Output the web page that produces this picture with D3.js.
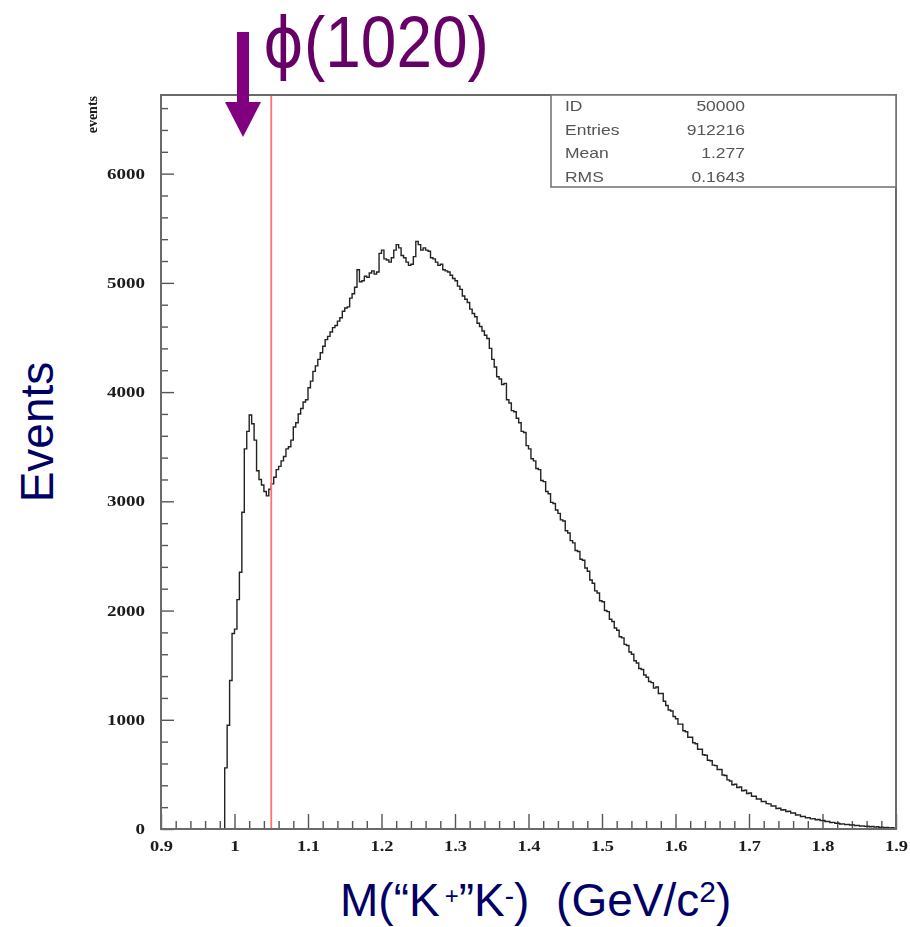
<!DOCTYPE html>
<html>
<head>
<meta charset="utf-8">
<style>
  body { margin: 0; background: #fff; }
  svg { display: block; }
</style>
</head>
<body>
<div id="chart"></div>
<script src="https://d3js.org/d3.v7.min.js"></script>
<script>
// histogram: 300 bins from 0.9 to 1.9 GeV/c2
const binLo = 0.9;
const binHi = 1.9;
const counts = [
  0, 0, 0, 0, 0, 0, 0, 0, 0, 0,
  0, 0, 0, 0, 0, 0, 0, 0, 0, 0,
  0, 0, 0, 0, 0, 0, 560, 950, 1360, 1790,
  1830, 2100, 2350, 2900, 3480, 3640, 3790, 3710, 3560, 3280,
  3200, 3150, 3090, 3050, 3110, 3160, 3220, 3290, 3320, 3370,
  3410, 3480, 3500, 3560, 3680, 3720, 3800, 3850, 3910, 3930,
  4040, 4100, 4190, 4240, 4300, 4360, 4420, 4480, 4510, 4550,
  4590, 4610, 4650, 4680, 4740, 4770, 4780, 4860, 4900, 4960,
  5120, 5010, 5020, 5060, 5050, 5090, 5110, 5080, 5100, 5270,
  5300, 5220, 5210, 5190, 5230, 5300, 5350, 5320, 5250, 5230,
  5190, 5160, 5170, 5240, 5380, 5350, 5300, 5320, 5300, 5290,
  5230, 5220, 5190, 5160, 5170, 5120, 5110, 5100, 5070, 5040,
  5020, 4970, 4940, 4880, 4850, 4820, 4760, 4720, 4690, 4630,
  4600, 4560, 4520, 4490, 4400, 4300, 4230, 4140, 4120, 4070,
  4080, 3930, 3900, 3830, 3820, 3760, 3720, 3640, 3630, 3510,
  3480, 3390, 3370, 3300, 3290, 3190, 3180, 3090, 3070, 2990,
  2980, 2920, 2890, 2830, 2820, 2730, 2710, 2640, 2620, 2550,
  2540, 2470, 2460, 2390, 2360, 2280, 2250, 2180, 2160, 2090,
  2080, 2000, 1990, 1920, 1900, 1840, 1820, 1760, 1750, 1690,
  1680, 1620, 1600, 1540, 1520, 1470, 1460, 1410, 1390, 1350,
  1340, 1290, 1300, 1240, 1240, 1170, 1130, 1090, 1080, 1030,
  1010, 960, 960, 900, 890, 840, 840, 790, 780, 730,
  730, 680, 675, 630, 625, 585, 580, 545, 545, 495,
  490, 450, 440, 405, 410, 380, 385, 350, 355, 325,
  330, 300, 300, 275, 275, 252, 252, 232, 230, 210,
  210, 188, 190, 174, 176, 160, 162, 146, 146, 128,
  129, 114, 116, 102, 104, 93, 95, 85, 87, 77,
  78, 68, 69, 60, 61, 53, 52, 46, 47, 40,
  42, 36, 38, 32, 33, 27, 29, 24, 26, 20,
  23, 17, 20, 14, 17, 12, 14, 9, 12, 8
];
const yMajorTicks = [0, 1000, 2000, 3000, 4000, 5000, 6000];
const xMajorTicks = [0.9, 1.0, 1.1, 1.2, 1.3, 1.4, 1.5, 1.6, 1.7, 1.8, 1.9];
const xTickLabels = ["0.9", "1", "1.1", "1.2", "1.3", "1.4", "1.5", "1.6", "1.7", "1.8", "1.9"];
const cutValue = 1.05;
const statLabels = ["ID", "Entries", "Mean", "RMS"];
const statValues = ["50000", "912216", "1.277", "0.1643"];

const W = 910, H = 927;
const plot = { left: 161, right: 896, top: 95, bottom: 829 };

const svg = d3.select("#chart").append("svg")
    .attr("width", W)
    .attr("height", H);

// the source is a blurry scan, soften the plot a bit
svg.append("defs").append("filter")
    .attr("id", "soft")
    .attr("x", "-5%").attr("y", "-5%")
    .attr("width", "110%").attr("height", "110%")
    .append("feGaussianBlur")
    .attr("stdDeviation", 0.7);

const x = d3.scaleLinear().domain([binLo, binHi]).range([plot.left, plot.right]);
const y = d3.scaleLinear().domain([0, 6720]).range([plot.bottom, plot.top]);

const g = svg.append("g").attr("filter", "url(#soft)");

// minor ticks
const yMinor = d3.range(0, 6720, 200).filter(v => v % 1000 !== 0);
const xMinor = d3.range(0, 51).map(i => binLo + i * 0.02).filter((v, i) => i % 5 !== 0);

g.append("g")
    .attr("transform", `translate(${plot.left},0)`)
    .call(d3.axisLeft(y).tickValues(yMinor).tickSize(-7).tickFormat(""))
    .call(a => a.select(".domain").remove());

g.append("g")
    .attr("transform", `translate(0,${plot.bottom})`)
    .call(d3.axisBottom(x).tickValues(xMinor).tickSize(-8).tickFormat(""))
    .call(a => a.select(".domain").remove());

// major ticks + labels
const yAxis = g.append("g")
    .attr("transform", `translate(${plot.left},0)`)
    .call(d3.axisLeft(y).tickValues(yMajorTicks).tickSize(-13).tickPadding(16).tickFormat(d3.format("d")));
yAxis.select(".domain").remove();

const xAxis = g.append("g")
    .attr("transform", `translate(0,${plot.bottom})`)
    .call(d3.axisBottom(x).tickValues(xMajorTicks).tickSize(-15).tickPadding(12)
        .tickFormat((d, i) => xTickLabels[i]));
xAxis.select(".domain").remove();

g.selectAll(".tick line").attr("stroke", "#555").attr("stroke-width", 1.4);

function labelWidth(s) {
  let w = 0;
  for (const ch of s) w += ch === "." ? 4 : 9.5;
  return w;
}

g.selectAll(".tick text")
    .attr("font-family", "'Liberation Serif', 'Times New Roman', serif")
    .attr("font-weight", "bold")
    .attr("font-size", 14)
    .attr("fill", "#1a1a1a")
    .attr("lengthAdjust", "spacingAndGlyphs")
    .attr("textLength", function() { return labelWidth(this.textContent); });

// y title of the PAW frame
g.append("text")
    .attr("transform", `translate(97,${plot.top + 1}) rotate(-90)`)
    .attr("text-anchor", "end")
    .attr("font-family", "'Liberation Serif', 'Times New Roman', serif")
    .attr("font-weight", "bold")
    .attr("font-size", 14)
    .attr("fill", "#1a1a1a")
    .text("events");

// histogram outline as steps
const edges = counts.map((c, i) => ({ x: binLo + i * (binHi - binLo) / counts.length, c: c }));
edges.push({ x: binHi, c: counts[counts.length - 1] });

const line = d3.line()
    .x(d => x(d.x))
    .y(d => y(d.c))
    .curve(d3.curveStepAfter);

g.append("path")
    .datum(edges)
    .attr("fill", "none")
    .attr("stroke", "#222")
    .attr("stroke-width", 1.4)
    .attr("d", line);

// cut line
g.append("line")
    .attr("x1", x(cutValue))
    .attr("x2", x(cutValue))
    .attr("y1", plot.top)
    .attr("y2", plot.bottom)
    .attr("stroke", "#ff7070")
    .attr("stroke-width", 1.8);

// frame
g.append("rect")
    .attr("x", plot.left)
    .attr("y", plot.top)
    .attr("width", plot.right - plot.left)
    .attr("height", plot.bottom - plot.top)
    .attr("fill", "none")
    .attr("stroke", "#6a6a6a")
    .attr("stroke-width", 2);

// statistics box
g.append("rect")
    .attr("x", 551)
    .attr("y", plot.top)
    .attr("width", plot.right - 551)
    .attr("height", 92)
    .attr("fill", "#fff")
    .attr("stroke", "#777")
    .attr("stroke-width", 1.6);

function stretched(sel, px, py, txt, anchor, sx) {
  return sel.append("text")
      .attr("transform", `translate(${px},${py}) scale(${sx},1)`)
      .attr("text-anchor", anchor)
      .attr("font-family", "'Liberation Sans', Arial, sans-serif")
      .attr("font-size", 14)
      .attr("fill", "#555")
      .text(txt);
}

statLabels.forEach((s, i) => {
  const by = 111 + i * 23.7;
  stretched(g, 565, by, s, "start", 1.25);
  stretched(g, 745, by, statValues[i], "end", 1.25);
});

// annotation: arrow and resonance name
const purple = "#800080";
svg.append("rect")
    .attr("x", 237)
    .attr("y", 32)
    .attr("width", 12)
    .attr("height", 72)
    .attr("fill", purple);
svg.append("path")
    .attr("d", "M225,102 L261,102 L243,137 Z")
    .attr("fill", purple);

svg.append("text")
    .attr("transform", "translate(263,67) scale(1,1.12)")
    .attr("font-family", "'DejaVu Sans', sans-serif")
    .attr("font-size", 62)
    .attr("fill", "#660066")
    .call(t => t.append("tspan").text("ϕ"))
    .call(t => t.append("tspan")
        .attr("font-family", "'Liberation Sans', Arial, sans-serif")
        .attr("font-size", 64)
        .text("(1020)"));

// axis titles
svg.append("text")
    .attr("transform", "translate(53,432) rotate(-90)")
    .attr("text-anchor", "middle")
    .attr("font-family", "'Liberation Sans', Arial, sans-serif")
    .attr("font-size", 46)
    .attr("fill", "#000066")
    .text("Events");

const xt = svg.append("text")
    .attr("x", 340)
    .attr("y", 916)
    .attr("font-family", "'Liberation Sans', Arial, sans-serif")
    .attr("font-size", 46)
    .attr("fill", "#000066");
xt.append("tspan").text("M(“K");
xt.append("tspan").attr("font-size", 24).attr("dx", 5).attr("dy", -12).text("+");
xt.append("tspan").attr("dy", 12).text("”K");
xt.append("tspan").attr("font-size", 28).attr("dy", -11).text("-");
xt.append("tspan").attr("dy", 11).text(")");
xt.append("tspan").attr("dx", 14).text(" (GeV/c");
xt.append("tspan").attr("font-size", 30).attr("dy", -14).text("2");
xt.append("tspan").attr("dy", 14).text(")");
</script>
</body>
</html>
